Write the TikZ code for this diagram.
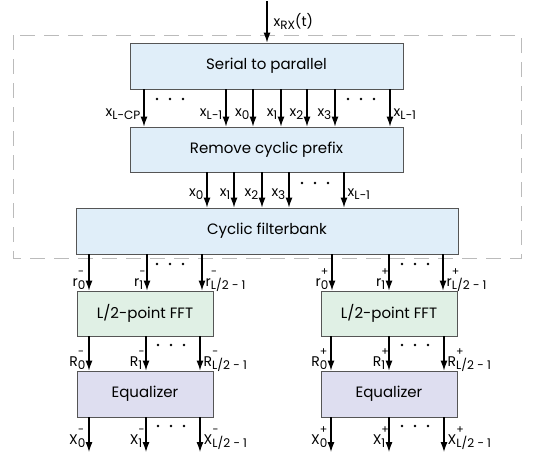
\documentclass[tikz,border=0pt]{standalone}
\usepackage{fontspec}
\setmainfont{Poppins}
\usetikzlibrary{arrows.meta}
\definecolor{blk}{HTML}{555555}
\definecolor{bluefill}{HTML}{E0EEF9}
\definecolor{greenfill}{HTML}{E0F0E5}
\definecolor{lavfill}{HTML}{DEDEF0}
\definecolor{dashgray}{HTML}{BBBBBB}
% index and stacked index/exponent in the label font
\newcommand\idx[1]{\raisebox{-3pt}{\fontsize{12}{12}\selectfont #1}}
\newcommand\ssb[3]{#1\rlap{\raisebox{10.5pt}{\fontsize{11}{11}\selectfont #3}}\idx{#2}}
\tikzset{
  blockbox/.style={draw=blk, line width=0.9pt, minimum height=46pt, inner sep=0pt, font=\fontsize{15}{17}\selectfont},
  arr/.style={-{Latex[length=10pt,width=7pt]}, line width=1.1pt},
  lbl/.style={inner sep=0.5pt, font=\fontsize{14}{16}\selectfont},
  dotc/.style={fill=black}
}
\begin{document}
\begin{tikzpicture}[x=1pt,y=-1pt]
\useasboundingbox (0,0) rectangle (542,453);
% receiver front end enclosure
\draw[dashgray, line width=0.8pt, dash pattern=on 15pt off 9pt] (13,35) rectangle (521,258);

% blocks
\node[blockbox, fill=bluefill, minimum width=273pt] (s2p) at (266.5,66) {Serial to parallel};
\node[blockbox, fill=bluefill, minimum width=273pt, minimum height=45pt] (rcp) at (266.5,149.5) {Remove cyclic prefix};
\node[blockbox, fill=bluefill, minimum width=382pt] (cfb) at (267,231) {Cyclic filterbank};
\node[blockbox, fill=greenfill, minimum width=136pt, minimum height=45pt] (fftL) at (145,313.5) {L/2-point FFT};
\node[blockbox, fill=greenfill, minimum width=136pt, minimum height=45pt] (fftR) at (389,313.5) {L/2-point FFT};
\node[blockbox, fill=lavfill, minimum width=136pt] (eqL) at (145,394) {Equalizer};
\node[blockbox, fill=lavfill, minimum width=136pt] (eqR) at (389,394) {Equalizer};

% input
\coordinate (rxin) at (267,1);
\draw[arr] (rxin) -- (s2p.north -| rxin);
\node[lbl, anchor=base west] (rxlbl) at (273,26) {x\idx{RX}(t)};

% serial to parallel -> remove cyclic prefix
\foreach \x in {144,226,253,281,307,335,390}
  \draw[arr] (s2p.south -| \x,0) -- (rcp.north -| \x,0);
\node[lbl, anchor=base east] (a1) at (141,116) {x\idx{L−CP}};
\node[lbl, anchor=base east] (a2) at (223,116) {x\idx{L−1}};
\node[lbl, anchor=base east] (a3) at (250,116) {x\idx{0}};
\node[lbl, anchor=base east] (a4) at (278,116) {x\idx{1}};
\node[lbl, anchor=base east] (a5) at (304,116) {x\idx{2}};
\node[lbl, anchor=base east] (a6) at (332,116) {x\idx{3}};
\node[lbl, anchor=base west] (a7) at (393,116) {x\idx{L−1}};
\foreach \c/\y in {170/99, 361/99, 315/183}
  \foreach \d in {-13,0,13}
    \fill[dotc] (\c+\d,\y) circle (1.4pt);

% remove cyclic prefix -> filterbank
\foreach \x in {207,234,262,289,344}
  \draw[arr] (rcp.south -| \x,0) -- (cfb.north -| \x,0);
\node[lbl, anchor=base east] (b1) at (204,196.5) {x\idx{0}};
\node[lbl, anchor=base east] (b2) at (231,196.5) {x\idx{1}};
\node[lbl, anchor=base east] (b3) at (259,196.5) {x\idx{2}};
\node[lbl, anchor=base east] (b4) at (286,196.5) {x\idx{3}};
\node[lbl, anchor=base west] (b5) at (347,196.5) {x\idx{L−1}};

% filterbank -> FFTs
\foreach \x in {89,147,202}
  \draw[arr] (cfb.south -| \x,0) -- (fftL.north -| \x,0);
\foreach \x in {332,389,443}
  \draw[arr] (cfb.south -| \x,0) -- (fftR.north -| \x,0);
\node[lbl, anchor=base east] (c1) at (86,286) {\ssb{r}{0}{−}};
\node[lbl, anchor=base east] (c2) at (144,286) {\ssb{r}{1}{−}};
\node[lbl, anchor=base west] (c3) at (205,286) {\ssb{r}{L/2 − 1}{−}};
\node[lbl, anchor=base east] (c4) at (329,286) {\ssb{r}{0}{+}};
\node[lbl, anchor=base east] (c5) at (386,286) {\ssb{r}{1}{+}};
\node[lbl, anchor=base west] (c6) at (446,286) {\ssb{r}{L/2 − 1}{+}};

% FFTs -> equalizers
\foreach \x in {89,146,200}
  \draw[arr] (fftL.south -| \x,0) -- (eqL.north -| \x,0);
\foreach \x in {331,389,444}
  \draw[arr] (fftR.south -| \x,0) -- (eqR.north -| \x,0);
\node[lbl, anchor=base east] (d1) at (86,366) {\ssb{R}{0}{−}};
\node[lbl, anchor=base east] (d2) at (143,366) {\ssb{R}{1}{−}};
\node[lbl, anchor=base west] (d3) at (203,366) {\ssb{R}{L/2 − 1}{−}};
\node[lbl, anchor=base east] (d4) at (328,366) {\ssb{R}{0}{+}};
\node[lbl, anchor=base east] (d5) at (386,366) {\ssb{R}{1}{+}};
\node[lbl, anchor=base west] (d6) at (447,366) {\ssb{R}{L/2 − 1}{+}};

% equalizer outputs
\foreach \x/\n in {89/o1,146/o2,200/o3}
  {\coordinate (\n) at (\x,452); \draw[arr] (eqL.south -| \n) -- (\n);}
\foreach \x/\n in {331/o4,389/o5,444/o6}
  {\coordinate (\n) at (\x,452); \draw[arr] (eqR.south -| \n) -- (\n);}
\node[lbl, anchor=base east] (e1) at (86,444) {\ssb{X}{0}{−}};
\node[lbl, anchor=base east] (e2) at (143,444) {\ssb{X}{1}{−}};
\node[lbl, anchor=base west] (e3) at (203,444) {\ssb{X}{L/2 − 1}{−}};
\node[lbl, anchor=base east] (e4) at (328,444) {\ssb{X}{0}{+}};
\node[lbl, anchor=base east] (e5) at (386,444) {\ssb{X}{1}{+}};
\node[lbl, anchor=base west] (e6) at (447,444) {\ssb{X}{L/2 − 1}{+}};

\foreach \c/\y in {170/264, 415/264, 171/345, 415/345, 171/426, 415/426}
  \foreach \d in {-13,0,13}
    \fill[dotc] (\c+\d,\y) circle (1.4pt);
\end{tikzpicture}
\end{document}
